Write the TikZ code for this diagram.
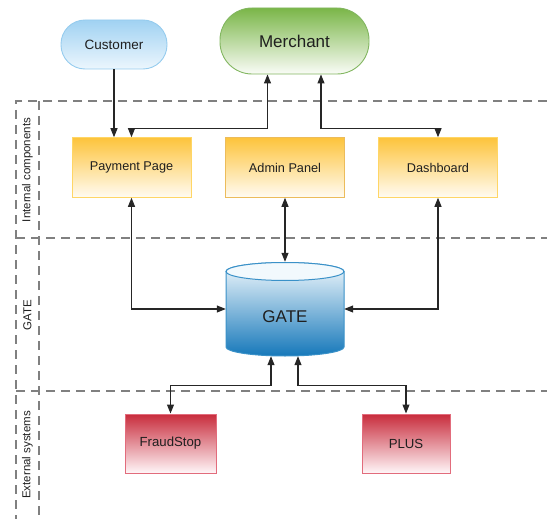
\documentclass[tikz,border=0pt]{standalone}
\usepackage{fontspec}
\setmainfont{Liberation Sans}
\usetikzlibrary{arrows.meta}

\definecolor{custtop}{RGB}{160,210,242}
\definecolor{custbot}{RGB}{236,246,253}
\definecolor{custline}{RGB}{150,204,238}
\definecolor{merchtop}{RGB}{122,182,72}
\definecolor{merchbot}{RGB}{250,252,247}
\definecolor{merchline}{RGB}{130,182,96}
\definecolor{comptop}{RGB}{253,196,60}
\definecolor{compbot}{RGB}{255,251,242}
\definecolor{compline}{RGB}{255,214,102}
\definecolor{gatetop}{RGB}{242,249,253}
\definecolor{gatebot}{RGB}{22,120,186}
\definecolor{gateline}{RGB}{58,145,200}
\definecolor{exttop}{RGB}{200,44,60}
\definecolor{extbot}{RGB}{255,246,248}
\definecolor{extline}{RGB}{226,108,124}
\definecolor{lanegray}{RGB}{128,128,128}

\begin{document}
\begin{tikzpicture}[x=1pt, y=-1pt,
    >={Triangle[length=9pt,width=7pt]},
    every node/.style={text=black!88},
    conn/.style={draw=black!85, line width=1.05pt},
    lane/.style={draw=lanegray, line width=1.3pt, dash pattern=on 9pt off 6pt},
    lanetitle/.style={rotate=90, font=\fontsize{11.5}{13}\selectfont},
    pill/.style={draw, line width=0.9pt, rounded corners=24pt, inner sep=0pt},
    compbox/.style={draw=compline, line width=1pt, top color=comptop, bottom color=compbot,
      minimum width=119pt, minimum height=59.5pt, inner sep=0pt, font=\fontsize{12.7}{15}\selectfont},
    extbox/.style={draw=extline, line width=1pt, top color=exttop, bottom color=extbot,
      minimum height=59pt, inner sep=0pt, font=\fontsize{13.2}{15}\selectfont}]
    \useasboundingbox (0,0) rectangle (547,519);

    % swimlanes
    \draw[lane] (547,101) -- (16,101) -- (16,519);
    \draw[lane] (39,101) -- (39,519);
    \foreach \y in {238,391}
        \draw[lane] (16,\y) -- (547,\y);

    \node[lanetitle] (lanecomp) at (27.5,170) {Internal components};
    \node[lanetitle] (lanegate) at (27.5,315) {GATE};
    \node[lanetitle] (laneext) at (27.5,455) {External systems};

    % actors
    \node[pill, draw=custline, top color=custtop, bottom color=custbot,
        minimum width=106pt, minimum height=49pt, font=\fontsize{13.5}{15}\selectfont] (cust) at (114,44.5) {Customer};
    \node[pill, draw=merchline, top color=merchtop, bottom color=merchbot, rounded corners=32pt,
        minimum width=149pt, minimum height=66pt, font=\fontsize{17}{19}\selectfont] (merch) at (294.5,41) {Merchant};

    % internal components
    \node[compbox] (pay) at (131.5,167.5) {Payment Page};
    \node[compbox, draw=compline!70!brown] (admin) at (285,167.5) {Admin Panel};
    \node[compbox] (dash) at (438,167.5) {Dashboard};

    % core database, body and lid drawn by hand
    \path[draw=gateline, line width=1pt, top color=gatetop, bottom color=gatebot]
        (226,271.5) -- (226,347) arc (180:360:59pt and 9pt) -- (344,271.5) arc (0:180:59pt and 9pt) -- cycle;
    \filldraw[fill=gatetop, draw=gateline, line width=1pt] (285,271.5) ellipse (59pt and 9pt);
    \node[minimum width=118pt, minimum height=94pt, inner sep=0pt,
        label={[font=\fontsize{17}{19}\selectfont, yshift=-8pt]center:GATE}] (gate) at (285,309) {};

    % external systems
    \node[extbox, minimum width=91pt] (fraud) at (170.5,443.5) {FraudStop};
    \node[extbox, minimum width=88pt] (plus) at (406,443.5) {PLUS};

    % connectors
    \draw[conn, ->] (cust.south) -- (cust.south |- pay.north);
    \draw[conn, <->] ([xshift=-27pt]merch.south) -- ++(0,54.5) -| (pay.north);
    \draw[conn, <->] ([xshift=26.5pt]merch.south) -- ++(0,54.5) -| (dash.north);
    \draw[conn, <->] (pay.south) |- (gate.west);
    \draw[conn, <->] (admin.south) -- (gate.north);
    \draw[conn, <->] (dash.south) |- (gate.east);
    \draw[conn, <->] ([xshift=-14pt]gate.south) -- ++(0,29) -| (fraud.north);
    \draw[conn, <->] ([xshift=13pt]gate.south) -- ++(0,29) -| (plus.north);
\end{tikzpicture}
\end{document}
